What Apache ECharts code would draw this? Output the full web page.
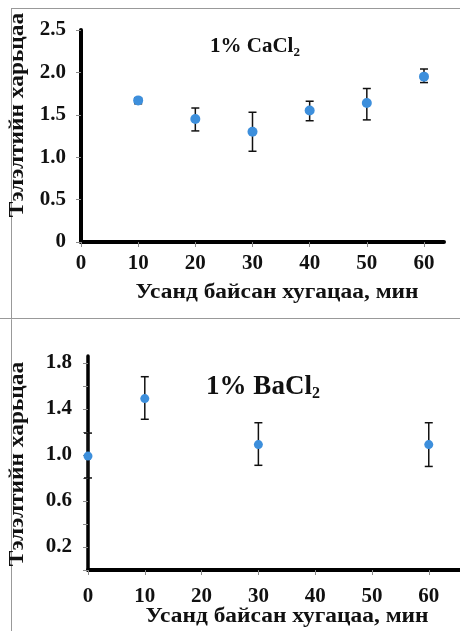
<!DOCTYPE html>
<html>
<head>
<meta charset="utf-8">
<script src="https://cdn.jsdelivr.net/npm/echarts@6/dist/echarts.min.js"></script>
<style>
html,body{margin:0;padding:0;background:#fff;}
#c{width:460px;height:631px;}
</style>
</head>
<body>
<div id="c"></div>
<script>
// ---- data ----
const timesTop = [10, 20, 30, 40, 50, 60];
const ratioTop = [1.67, 1.45, 1.30, 1.55, 1.64, 1.95];
const errLowTop = [1.63, 1.31, 1.07, 1.43, 1.44, 1.88];
const errHighTop = [1.70, 1.58, 1.53, 1.66, 1.81, 2.04];

const timesBottom = [0, 10, 30, 60];
const ratioBottom = [0.99, 1.49, 1.09, 1.09];
const errLowBottom = [0.80, 1.31, 0.91, 0.90];
const errHighBottom = [1.19, 1.68, 1.28, 1.28];

const xTickLabels = ['0', '10', '20', '30', '40', '50', '60'];
const topYLabels = ['0', '0.5', '1.0', '1.5', '2.0', '2.5'];
const bottomYLabels = ['0.2', '0.6', '1.0', '1.4', '1.8'];

const titleTop = '1% CaCl';
const titleBottom = '1% BaCl';
const xName = 'Усанд байсан хугацаа, мин';
const yName = 'Тэлэлтийн харьцаа';

// ---- build ----
const FONT = '"Liberation Serif", "Times New Roman", serif';
const BLUE = '#3d8fdc';

function fmtX(v) {
  const s = String(Math.round(v));
  return xTickLabels.indexOf(s) >= 0 && Math.abs(v - Math.round(v)) < 1e-6 ? s : '';
}
function fmtTopY(v) {
  const s = Math.abs(v) < 1e-9 ? '0' : v.toFixed(1);
  return topYLabels.indexOf(s) >= 0 && Math.abs(v * 2 - Math.round(v * 2)) < 1e-6 ? s : '';
}
function fmtBottomY(v) {
  const s = v.toFixed(1);
  return bottomYLabels.indexOf(s) >= 0 && Math.abs(v * 5 - Math.round(v * 5)) < 1e-6 ? s : '';
}

function errData(xs, lo, hi) { return xs.map((x, i) => [x, lo[i], hi[i]]); }
function ptData(xs, ys) { return xs.map((x, i) => [x, ys[i]]); }

function errRender(params, api) {
  const x = api.value(0);
  const p1 = api.coord([x, api.value(1)]);
  const p2 = api.coord([x, api.value(2)]);
  const w = 4;
  const style = { stroke: '#111', lineWidth: 1.5 };
  return {
    type: 'group',
    children: [
      { type: 'line', shape: { x1: p1[0], y1: p1[1], x2: p2[0], y2: p2[1] }, style },
      { type: 'line', shape: { x1: p1[0] - w, y1: p1[1], x2: p1[0] + w, y2: p1[1] }, style },
      { type: 'line', shape: { x1: p2[0] - w, y1: p2[1], x2: p2[0] + w, y2: p2[1] }, style }
    ]
  };
}

function xAxisCfg(gridIndex, max, lw, margin) {
  return {
    type: 'value', gridIndex, min: 0, max, interval: 10,
    axisLine: { show: true, onZero: false, lineStyle: { color: '#000', width: lw } },
    axisTick: { show: true, length: 5, lineStyle: { color: '#888', width: 1 } },
    splitLine: { show: false },
    axisLabel: { formatter: fmtX, fontFamily: FONT, fontWeight: 'bold', fontSize: 21, color: '#111', margin, showMaxLabel: false }
  };
}

function nameText(txt, x, y, rot) {
  return {
    type: 'text', x, y, rotation: rot, scaleX: 1.17, silent: true,
    style: { text: txt, font: 'bold 20px ' + FONT, fill: '#111', textAlign: 'center', textVerticalAlign: 'middle' }
  };
}

const chart = echarts.init(document.getElementById('c'), null, { renderer: 'canvas' });
chart.setOption({
  animation: false,
  backgroundColor: '#fff',
  grid: [
    { left: 81, top: 30, right: 16, bottom: 389 },
    { left: 88, top: 356, right: 0, bottom: 61 }
  ],
  xAxis: [
    xAxisCfg(0, 63.5, 4, 11),
    xAxisCfg(1, 65.5, 4, 16)
  ],
  yAxis: [
    {
      type: 'value', gridIndex: 0, min: 0, max: 2.5, interval: 0.5,
      axisLine: { show: true, lineStyle: { color: '#000', width: 4 } },
      axisTick: { show: true, length: 5, lineStyle: { color: '#888', width: 1 } },
      splitLine: { show: false },
      axisLabel: { formatter: fmtTopY, fontFamily: FONT, fontWeight: 'bold', fontSize: 21, color: '#111', margin: 15 }
    },
    {
      type: 'value', gridIndex: 1, min: 0, max: 1.86, interval: 0.2,
      axisLine: { show: true, lineStyle: { color: '#000', width: 3.5 } },
      axisTick: { show: true, length: 5, lineStyle: { color: '#888', width: 1 } },
      splitLine: { show: false },
      axisLabel: { formatter: fmtBottomY, fontFamily: FONT, fontWeight: 'bold', fontSize: 21, color: '#111', margin: 16, showMaxLabel: false }
    }
  ],
  title: [
    {
      text: '{a|' + titleTop + '}{s|2}', left: 250, top: 42, textAlign: 'center', textVerticalAlign: 'middle',
      textStyle: { rich: {
        a: { fontFamily: FONT, fontWeight: 'bold', fontSize: 21, color: '#111' },
        s: { fontFamily: FONT, fontWeight: 'bold', fontSize: 13, color: '#111', padding: [12, 0, 0, 0] }
      } }
    },
    {
      text: '{a|' + titleBottom + '}{s|2}', left: 258, top: 382, textAlign: 'center', textVerticalAlign: 'middle',
      textStyle: { rich: {
        a: { fontFamily: FONT, fontWeight: 'bold', fontSize: 27, color: '#111' },
        s: { fontFamily: FONT, fontWeight: 'bold', fontSize: 16, color: '#111', padding: [14, 0, 0, 0] }
      } }
    }
  ],
  graphic: [
    { type: 'line', shape: { x1: 11, y1: 8.5, x2: 460, y2: 8.5 }, style: { stroke: '#999', lineWidth: 1 }, silent: true },
    { type: 'line', shape: { x1: 11.5, y1: 8, x2: 11.5, y2: 631 }, style: { stroke: '#999', lineWidth: 1 }, silent: true },
    { type: 'line', shape: { x1: 0, y1: 318.5, x2: 460, y2: 318.5 }, style: { stroke: '#999', lineWidth: 1 }, silent: true },
    nameText(yName, 18, 115, Math.PI / 2),
    nameText(yName, 18, 464, Math.PI / 2),
    nameText(xName, 277, 293, 0),
    nameText(xName, 287, 617, 0)
  ],
  series: [
    { type: 'custom', xAxisIndex: 0, yAxisIndex: 0, renderItem: errRender, data: errData(timesTop, errLowTop, errHighTop), z: 3 },
    { type: 'scatter', xAxisIndex: 0, yAxisIndex: 0, data: ptData(timesTop, ratioTop), symbolSize: 10, itemStyle: { color: BLUE, opacity: 1 }, z: 4 },
    { type: 'custom', xAxisIndex: 1, yAxisIndex: 1, renderItem: errRender, data: errData(timesBottom, errLowBottom, errHighBottom), z: 3 },
    { type: 'scatter', xAxisIndex: 1, yAxisIndex: 1, data: ptData(timesBottom, ratioBottom), symbolSize: 9, itemStyle: { color: BLUE, opacity: 1 }, z: 4 }
  ]
});
</script>
</body>
</html>
